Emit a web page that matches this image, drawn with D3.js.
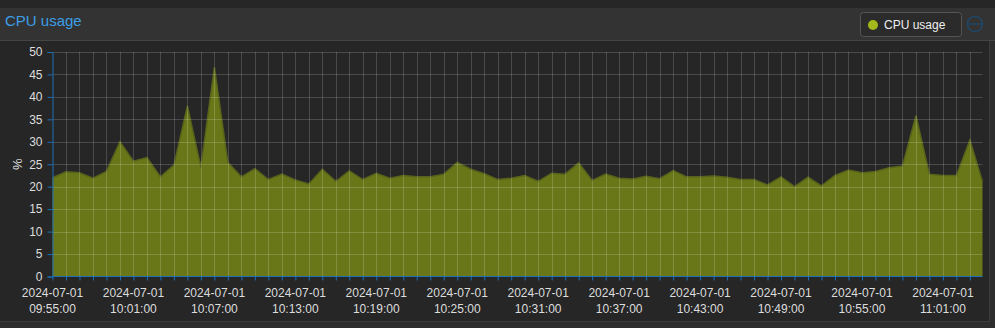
<!DOCTYPE html>
<html>
<head>
<meta charset="utf-8">
<script src="https://cdn.jsdelivr.net/npm/d3@7"></script>
<style>
  body { margin: 0; background: #262626; font-family: "Liberation Sans", Arial, sans-serif; }
  svg { display: block; }
</style>
</head>
<body>
<div id="chart"></div>
<script>
// one sample per minute from 09:55, last sample is a partial minute
const startTime = '2024-07-01 09:55:00';
const lastTime = '2024-07-01 11:03:56';
const cpuValues = [
  22.0, 23.3, 23.1, 21.9, 23.4, 30.0, 25.7, 26.5, 22.2, 24.8,
  38.0, 24.3, 46.6, 25.4, 22.2, 24.0, 21.6, 22.8, 21.5, 20.6,
  23.9, 21.2, 23.5, 21.6, 23.0, 21.9, 22.5, 22.2, 22.2, 22.8,
  25.4, 23.9, 22.9, 21.6, 21.9, 22.5, 21.2, 23.0, 22.8, 25.3,
  21.4, 22.8, 21.9, 21.7, 22.3, 21.8, 23.6, 22.2, 22.2, 22.4,
  22.1, 21.6, 21.6, 20.4, 22.2, 20.0, 22.1, 20.2, 22.5, 23.7,
  23.1, 23.4, 24.2, 24.6, 35.8, 22.8, 22.5, 22.5, 30.4, 21.1
];
const yTicks = [0, 5, 10, 15, 20, 25, 30, 35, 40, 45, 50];
const seriesName = 'CPU usage';

const W = 995, H = 328;
const plot = { left: 52.5, right: 982.5, top: 52, bottom: 276.5 };

const parse = d3.timeParse('%Y-%m-%d %H:%M:%S');
const t0 = parse(startTime), tEnd = parse(lastTime);
const data = cpuValues.map((v, i) => ({
  t: i < cpuValues.length - 1 ? d3.timeMinute.offset(t0, i) : tEnd,
  v
}));

const svg = d3.select('#chart').append('svg')
  .attr('width', W).attr('height', H);

// panel chrome
svg.append('rect').attr('x', 0).attr('y', 8).attr('width', W).attr('height', 32).attr('fill', '#333');
svg.append('line').attr('x1', 0).attr('x2', W).attr('y1', 40.5).attr('y2', 40.5).attr('stroke', '#444');
svg.append('rect').attr('x', 990).attr('y', 41).attr('width', 5).attr('height', H).attr('fill', '#2e2e2e');
svg.append('line').attr('x1', 989.5).attr('x2', 989.5).attr('y1', 41).attr('y2', H).attr('stroke', '#3c3c3c');
svg.append('rect').attr('x', 0).attr('y', 322).attr('width', W).attr('height', 6).attr('fill', '#2e2e2e');
svg.append('line').attr('x1', 0).attr('x2', 990).attr('y1', 321.5).attr('y2', 321.5).attr('stroke', '#3c3c3c');

svg.append('text').attr('x', 5).attr('y', 26)
  .attr('fill', '#3b9ee6').attr('font-size', 15).text(seriesName);

// legend
const lg = svg.append('g');
lg.append('rect').attr('x', 860.5).attr('y', 12.5).attr('width', 101).attr('height', 24).attr('rx', 3)
  .attr('fill', '#2b2b2b').attr('stroke', '#555');
lg.append('circle').attr('cx', 873).attr('cy', 25).attr('r', 5).attr('fill', '#a3b81a');
lg.append('text').attr('x', 884).attr('y', 28.5).attr('fill', '#eee').attr('font-size', 12).text(seriesName);
lg.append('circle').attr('cx', 975).attr('cy', 24).attr('r', 7.5).attr('fill', 'none').attr('stroke', '#1c4c74').attr('stroke-width', 1.2);
lg.append('line').attr('x1', 968).attr('x2', 982).attr('y1', 24).attr('y2', 24).attr('stroke', '#1c4c74').attr('stroke-width', 1.2);

const x = d3.scaleTime().domain([t0, tEnd]).range([plot.left, plot.right]);
const y = d3.scaleLinear().domain([0, 50]).range([plot.bottom, plot.top]);

const minuteTicks = d3.timeMinute.range(t0, tEnd);
const labelTicks = minuteTicks.filter((d, i) => i % 6 === 0);

// area
const area = d3.area().x(d => x(d.t)).y0(y(0)).y1(d => y(d.v));
const line = d3.line().x(d => x(d.t)).y(d => y(d.v));
svg.append('path').datum(data).attr('d', area).attr('fill', '#6a7718');
svg.append('path').datum(data).attr('d', line).attr('fill', 'none')
  .attr('stroke', '#57631a').attr('stroke-width', 1.5);

// grid on top
const grid = svg.append('g').attr('stroke', 'rgba(255,255,255,0.17)').attr('stroke-width', 1);
grid.selectAll('.vg').data(minuteTicks.slice(1)).join('line')
  .attr('x1', d => Math.round(x(d)) + 0.5).attr('x2', d => Math.round(x(d)) + 0.5)
  .attr('y1', plot.top).attr('y2', plot.bottom);
grid.selectAll('.hg').data(yTicks.slice(1)).join('line')
  .attr('x1', plot.left).attr('x2', plot.right)
  .attr('y1', d => Math.round(y(d)) + 0.5).attr('y2', d => Math.round(y(d)) + 0.5);

// x axis
const xAxis = svg.append('g').attr('transform', `translate(0,${plot.bottom})`)
  .call(d3.axisBottom(x).tickValues(minuteTicks).tickSize(4).tickFormat(''));
xAxis.selectAll('line, path').attr('stroke', '#1d6fb8');
xAxis.select('.domain').attr('d', `M${plot.left},0H${plot.right}`);
const fmtDate = d3.timeFormat('%Y-%m-%d'), fmtTime = d3.timeFormat('%H:%M:%S');
const xl = svg.append('g').selectAll('text').data(labelTicks).join('text')
  .attr('x', d => x(d)).attr('text-anchor', 'middle')
  .attr('fill', '#ddd').attr('font-size', 12);
xl.append('tspan').attr('x', d => x(d)).attr('y', 297).text(fmtDate);
xl.append('tspan').attr('x', d => x(d)).attr('y', 313).text(fmtTime);

// y axis
const yAxis = svg.append('g').attr('transform', `translate(${plot.left},0)`)
  .call(d3.axisLeft(y).tickValues(yTicks).tickSize(5).tickPadding(5));
yAxis.selectAll('line, path').attr('stroke', '#1d6fb8');
yAxis.selectAll('text').attr('fill', '#ddd').attr('font-size', 12)
  .attr('font-family', '"Liberation Sans", Arial, sans-serif');

svg.append('text').attr('transform', `translate(22,${(plot.top + plot.bottom) / 2}) rotate(-90)`)
  .attr('text-anchor', 'middle').attr('fill', '#ddd').attr('font-size', 13).text('%');
</script>
</body>
</html>
